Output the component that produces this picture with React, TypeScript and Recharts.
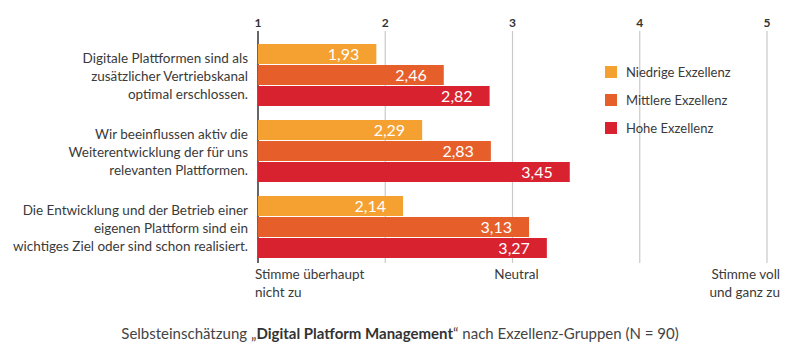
import React from "react";
import {
  BarChart, Bar, XAxis, YAxis, CartesianGrid, Legend, LabelList, ReferenceLine,
} from "recharts";

const categories = [
  "Digitale Plattformen sind als\nzusätzlicher Vertriebskanal\noptimal erschlossen.",
  "Wir beeinflussen aktiv die\nWeiterentwicklung der für uns\nrelevanten Plattformen.",
  "Die Entwicklung und der Betrieb einer\neigenen Plattform sind ein\nwichtiges  Ziel oder sind schon realisiert.",
];
const niedrig = [1.93, 2.29, 2.14];
const mittel = [2.46, 2.83, 3.13];
const hoch = [2.82, 3.45, 3.27];

const seriesNames = ["Niedrige Exzellenz", "Mittlere Exzellenz", "Hohe Exzellenz"];
const colors = ["#f5a131", "#e65f2b", "#d8222f"];

const topTicks = [1, 2, 3, 4, 5];
const scaleTicks = [1, 3, 5];
const scaleLabels = ["Stimme überhaupt\nnicht zu", "Neutral", "Stimme voll\nund ganz zu"];

const caption = ["Selbsteinschätzung „", "Digital Platform Management", "“ nach Exzellenz-Gruppen (N = 90)"];

const data = categories.map((name, i) => ({
  name,
  niedrig: niedrig[i],
  mittel: mittel[i],
  hoch: hoch[i],
}));

const FONT = "Lato, 'Open Sans', sans-serif";
const TEXT = "#3a3a3a";

const CatTick = ({ x, y, payload }: any) => {
  const lines = String(payload.value).split("\n");
  return (
    <text fill={TEXT} fontSize={13.5} fontFamily={FONT} textAnchor="end">
      {lines.map((l, i) => (
        <tspan key={i} x={x - 2} y={y + 6 + (i - (lines.length - 1) / 2) * 18}>{l}</tspan>
      ))}
    </text>
  );
};

const TopTick = ({ x, y, payload }: any) => (
  <text x={x} y={y - 2} textAnchor="middle" fill="#333" fontSize={12} fontWeight={700} fontFamily={FONT}>
    {payload.value}
  </text>
);

// multi-line label under the plot for the scale ends / middle
const scaleLabel = (index: number) => ({ viewBox }: any) => {
  const lines = scaleLabels[index].split("\n");
  const last = scaleTicks.length - 1;
  const anchor = index === 0 ? "start" : index === last ? "end" : "middle";
  const dx = index === 0 ? -3 : index === last ? 13 : 4;
  const x = viewBox.x;
  const y = viewBox.y + viewBox.height;
  return (
    <text fill={TEXT} fontSize={13.5} fontFamily={FONT} textAnchor={anchor}>
      {lines.map((l, i) => (
        <tspan key={i} x={x + dx} y={y + 14 + i * 18}>{l}</tspan>
      ))}
    </text>
  );
};

const gridLine = (props: any) => (
  <line
    key={`v-${props.index}`}
    x1={props.x1}
    x2={props.x2}
    y1={props.y1 - 6}
    y2={props.y2 - 2}
    stroke={props.index === 0 ? "#333" : "#c9c9c9"}
    strokeWidth={props.index === 0 ? 1.5 : 1.2}
  />
);

const LegendBox = () => (
  <div style={{ fontFamily: FONT, fontSize: 13, color: TEXT }}>
    {seriesNames.map((n, i) => (
      <div key={n} style={{ display: "flex", alignItems: "center", height: 28 }}>
        <span style={{ width: 12, height: 12, background: colors[i], marginRight: 9 }} />
        {n}
      </div>
    ))}
  </div>
);

const fmt = (v: any) => Number(v).toFixed(2).replace(".", ",");

export default function App() {
  return (
    <div style={{ position: "absolute", left: 0, top: 0, width: 800, height: 357, background: "#fff" }}>
      <BarChart
        width={800}
        height={357}
        data={data}
        layout="vertical"
        margin={{ top: 0, right: 33, bottom: 92, left: 0 }}
        barSize={20}
        barGap={1}
      >
        <CartesianGrid horizontal={false} vertical={gridLine} />
        <XAxis
          type="number"
          orientation="top"
          domain={[1, 5]}
          ticks={topTicks}
          height={37}
          axisLine={false}
          tickLine={false}
          tick={<TopTick />}
          interval={0}
        />
        <YAxis
          type="category"
          dataKey="name"
          width={258}
          axisLine={false}
          tickLine={false}
          tick={<CatTick />}
          interval={0}
        />
        <Legend
          layout="vertical"
          align="center"
          verticalAlign="middle"
          content={<LegendBox />}
          wrapperStyle={{ left: 605, top: 58, width: 180 }}
        />
        {scaleTicks.map((t, i) => (
          <ReferenceLine key={t} x={t} strokeOpacity={0} label={scaleLabel(i)} />
        ))}
        <Bar dataKey="niedrig" name={seriesNames[0]} fill={colors[0]} isAnimationActive={false}>
          <LabelList dataKey="niedrig" position="insideRight" offset={17} fill="#fff" fontSize={16} fontFamily={FONT} formatter={fmt} />
        </Bar>
        <Bar dataKey="mittel" name={seriesNames[1]} fill={colors[1]} isAnimationActive={false}>
          <LabelList dataKey="mittel" position="insideRight" offset={17} fill="#fff" fontSize={16} fontFamily={FONT} formatter={fmt} />
        </Bar>
        <Bar dataKey="hoch" name={seriesNames[2]} fill={colors[2]} isAnimationActive={false}>
          <LabelList dataKey="hoch" position="insideRight" offset={17} fill="#fff" fontSize={16} fontFamily={FONT} formatter={fmt} />
        </Bar>
      </BarChart>
      <div
        style={{
          position: "absolute", left: 0, top: 324, width: 800, textAlign: "center",
          fontFamily: FONT, fontSize: 15, color: "#444",
        }}
      >
        {caption[0]}<b style={{ fontWeight: 700, color: "#333" }}>{caption[1]}</b>{caption[2]}
      </div>
    </div>
  );
}
